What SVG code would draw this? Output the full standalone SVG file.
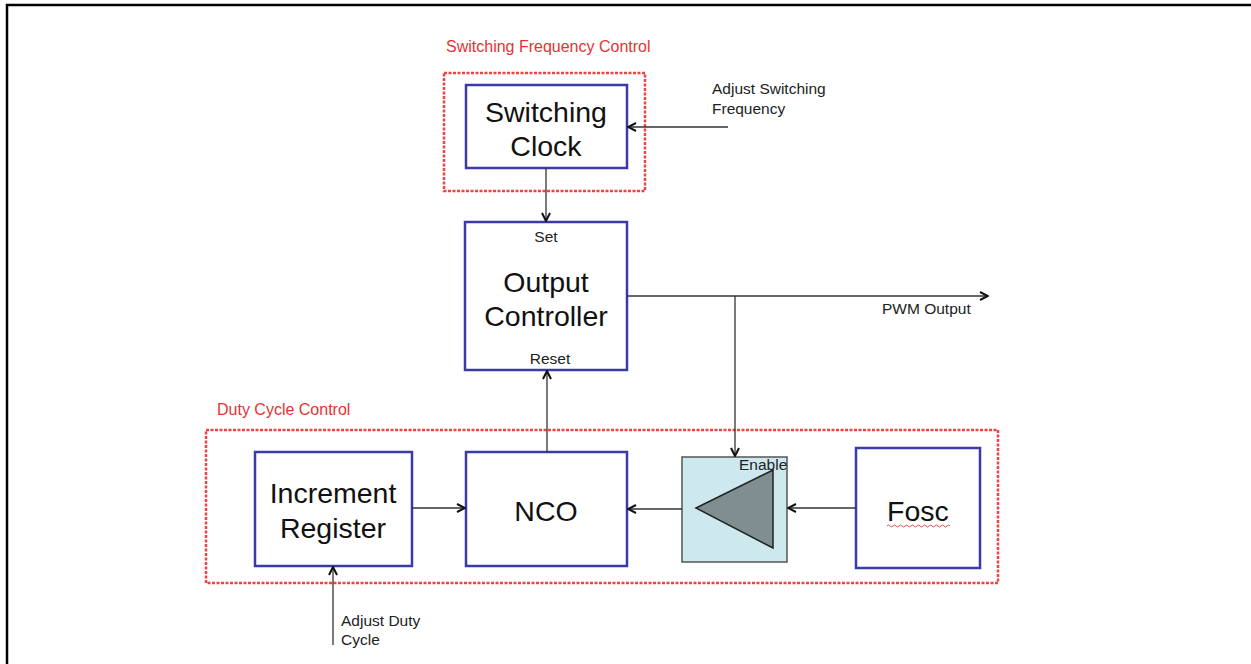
<svg xmlns="http://www.w3.org/2000/svg" width="1251" height="664" viewBox="0 0 1251 664">
<style>
.frame{stroke:#000;stroke-width:2.5;fill:none}
.grp{fill:none;stroke:#ee4444;stroke-width:2.5;stroke-dasharray:3 1.5}
.blk{fill:#fff;stroke:#3a3aa8;stroke-width:2.5}
.big{font-family:"Liberation Sans",Arial,sans-serif;font-size:28.5px;fill:#111;text-anchor:middle}
.sm{font-family:"Liberation Sans",Arial,sans-serif;font-size:15.5px;fill:#222}
.red{font-family:"Liberation Sans",Arial,sans-serif;font-size:16px;fill:#e53333}
.wire{stroke:#333;stroke-width:1.3;fill:none}
</style>
<defs>
<marker id="arr" viewBox="0 0 10 10" refX="9" refY="5" markerWidth="10" markerHeight="10" markerUnits="userSpaceOnUse" orient="auto">
<path d="M1,1 L9,5 L1,9" fill="none" stroke="#111" stroke-width="2"/>
</marker>
</defs>
<rect width="1251" height="664" fill="#fff"/>
<path class="frame" d="M7,664 V5 H1251"/>
<g id="sfc-group">
<text class="red" x="446" y="52">Switching Frequency Control</text>
<rect class="grp" x="444" y="73" width="201" height="118"/>
</g>
<g id="dcc-group">
<text class="red" x="217" y="415">Duty Cycle Control</text>
<rect class="grp" x="206" y="430" width="792" height="153"/>
</g>
<g id="switching-clock">
<rect class="blk" x="466" y="85" width="161" height="83"/>
<text class="big" x="546" y="122">Switching</text>
<text class="big" x="546" y="156">Clock</text>
</g>
<g id="output-controller">
<rect class="blk" x="465" y="222" width="162" height="148"/>
<text class="sm" x="546" y="242" text-anchor="middle">Set</text>
<text class="big" x="546" y="292">Output</text>
<text class="big" x="546" y="326">Controller</text>
<text class="sm" x="550" y="364" text-anchor="middle">Reset</text>
</g>
<g id="increment-register">
<rect class="blk" x="255" y="452" width="157" height="114"/>
<text class="big" x="333" y="503">Increment</text>
<text class="big" x="333" y="538">Register</text>
</g>
<g id="nco">
<rect class="blk" x="466" y="452" width="161" height="114"/>
<text class="big" x="546" y="521">NCO</text>
</g>
<g id="enable">
<rect x="682" y="457" width="105" height="105" fill="#cde9ee" stroke="#555" stroke-width="1.5"/>
<polygon points="696,508 773,470 773,548" fill="#7f8e90" stroke="#222" stroke-width="1.5"/>
<text class="sm" x="739" y="470" fill="#333">Enable</text>
</g>
<g id="fosc">
<rect class="blk" x="856" y="448" width="124" height="120"/>
<text class="big" x="918" y="521">Fosc</text>
<path d="M887,526 q1.5,-2 3,0 t3,0 t3,0 t3,0 t3,0 t3,0 t3,0 t3,0 t3,0 t3,0 t3,0 t3,0 t3,0 t3,0 t3,0 t3,0 t3,0 t3,0 t3,0 t3,0 t3,0" fill="none" stroke="#e05050" stroke-width="1"/>
</g>
<g id="labels">
<text class="sm" x="712" y="94">Adjust Switching</text>
<text class="sm" x="712" y="114">Frequency</text>
<text class="sm" x="882" y="314">PWM Output</text>
<text class="sm" x="341" y="626">Adjust Duty</text>
<text class="sm" x="341" y="645">Cycle</text>
</g>
<g id="connectors">
<path class="wire" d="M728,127 H628" marker-end="url(#arr)"/>
<path class="wire" d="M546,168 V221" marker-end="url(#arr)"/>
<path class="wire" d="M627,296 H988" marker-end="url(#arr)"/>
<path class="wire" d="M735,296 V456" marker-end="url(#arr)"/>
<path class="wire" d="M547,452 V371" marker-end="url(#arr)"/>
<path class="wire" d="M412,508 H465" marker-end="url(#arr)"/>
<path class="wire" d="M682,509 H628" marker-end="url(#arr)"/>
<path class="wire" d="M856,508 H788" marker-end="url(#arr)"/>
<path class="wire" d="M333,645 V567" marker-end="url(#arr)"/>
</g>
</svg>
